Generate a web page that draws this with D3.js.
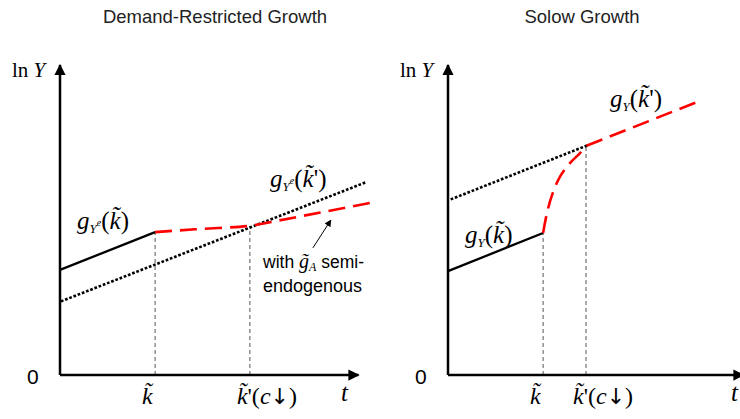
<!DOCTYPE html>
<html><head><meta charset="utf-8">
<script src="https://cdn.jsdelivr.net/npm/d3@7"></script>
<style>body{margin:0;background:#fff}svg{display:block}</style>
</head><body>
<svg id="c" width="740" height="419"></svg>
<script>
// ---- data (abstract units: t on x, ln Y on y) ----
const titles = ["Demand-Restricted Growth", "Solow Growth"];
// Left panel
const leftSolid = [[0, 3.39], [3.17, 4.61]];
const leftRedCurve = [[3.17, 4.61], [4.5, 4.7], [6.3, 4.81], [7.0, 4.93]];
const leftRedEnd = [10.33, 5.55];
const leftDotted = [[0.07, 2.39], [10.23, 6.23]];
const leftTicks = [3.17, 6.33];
// Right panel
const rightSolid = [[0, 3.35], [3.17, 4.58]];
const rightRedCurve = [[3.17, 4.58], [3.3, 5.23], [3.47, 5.81], [3.73, 6.39], [4.07, 6.84], [4.4, 7.16], [4.6, 7.39]];
const rightRedEnd = [8.47, 8.87];
const rightDotted = [[0.13, 5.68], [4.6, 7.39]];
const rightTicks = [3.17, 4.6];

const svg = d3.select("#c");
const defs = svg.append("defs");
defs.append("marker").attr("id","ax").attr("viewBox","0 0 10 10").attr("refX",9).attr("refY",5)
  .attr("markerWidth",4.5).attr("markerHeight",4.5).attr("markerUnits","strokeWidth").attr("orient","auto")
  .append("path").attr("d","M0,0L10,5L0,10z").attr("fill","#000");
defs.append("marker").attr("id","sm").attr("viewBox","0 0 10 10").attr("refX",9).attr("refY",5)
  .attr("markerWidth",7).attr("markerHeight",7).attr("markerUnits","strokeWidth").attr("orient","auto")
  .append("path").attr("d","M0,0L10,5L0,10z").attr("fill","#000");

const serif = "'Liberation Serif','Times New Roman',serif";
const sans = "'Liberation Sans',Arial,sans-serif";

const y = d3.scaleLinear().domain([0, 10]).range([375, 65]);

function panel(opt) {
  const x = d3.scaleLinear().domain([0, 10]).range([opt.x0, opt.x0 + 300]);
  const g = svg.append("g");
  const line = d3.line().x(d => x(d[0])).y(d => y(d[1]));
  // title
  g.append("text").attr("x", opt.titleX).attr("y", 23).attr("text-anchor","middle")
    .attr("font-family", sans).attr("font-size", 18.5).attr("fill","#222").text(opt.title);
  // vertical dashed guides
  opt.ticks.forEach((t, i) => {
    g.append("line").attr("x1", x(t)).attr("x2", x(t)).attr("y1", y(0)).attr("y2", y(opt.guideTop[i]))
      .attr("stroke","#555").attr("stroke-width",1).attr("stroke-dasharray","4,3");
  });
  // axes
  g.append("line").attr("x1", x(0)).attr("y1", y(0)).attr("x2", x(0)).attr("y2", y(10))
    .attr("stroke","#000").attr("stroke-width",2.5).attr("marker-end","url(#ax)");
  g.append("line").attr("x1", x(0)).attr("y1", y(0)).attr("x2", x(opt.xEnd)).attr("y2", y(0))
    .attr("stroke","#000").attr("stroke-width",2.5).attr("marker-end","url(#ax)");
  // dotted
  g.append("path").attr("d", line(opt.dotted)).attr("fill","none").attr("stroke","#000")
    .attr("stroke-width",2.6).attr("stroke-dasharray","0.1,4.4").attr("stroke-linecap","square");
  // solid
  g.append("path").attr("d", line(opt.solid)).attr("fill","none").attr("stroke","#000").attr("stroke-width",2.3);
  // red dashed: curved part then straight
  const p = d3.path();
  d3.line().x(d => x(d[0])).y(d => y(d[1])).curve(d3.curveCatmullRom.alpha(0.5)).context(p)(opt.redCurve);
  p.lineTo(x(opt.redEnd[0]), y(opt.redEnd[1]));
  g.append("path").attr("d", p.toString())
    .attr("fill","none").attr("stroke","#f00").attr("stroke-width",2.6).attr("stroke-dasharray","17,8");
  // ln Y
  const ly = g.append("text").attr("x", x(0) - 48).attr("y", 77).attr("font-family", serif).attr("font-size", 21);
  ly.append("tspan").text("ln ");
  ly.append("tspan").attr("font-style","italic").text("Y");
  g.append("text").attr("x", x(0) - 33).attr("y", 384).attr("font-family", sans).attr("font-size", 21).text("0");
  g.append("text").attr("x", opt.tX).attr("y", 401).attr("font-family", serif).attr("font-style","italic").attr("font-size", 25).text("t");
  // tick labels
  g.append("text").attr("x", x(opt.ticks[0]) - 13).attr("y", 404)
    .attr("font-family", serif).attr("font-style","italic").attr("font-size", 24).text("k\u0303");
  const k2 = g.append("text").attr("x", x(opt.ticks[1]) - 13).attr("y", 404)
    .attr("font-family", serif).attr("font-size", 24);
  k2.append("tspan").attr("font-style","italic").text("k\u0303");
  k2.append("tspan").text("'(");
  k2.append("tspan").attr("font-style","italic").text("c");
  k2.append("tspan").attr("font-family", "'DejaVu Sans',sans-serif").attr("font-size", 22).text("\u2193");
  k2.append("tspan").text(")");
  return {g, x};
}

function gLabel(g, xx, yy, sup, prime) {
  const t = g.append("text").attr("x", xx).attr("y", yy).attr("font-family", serif).attr("font-size", 25);
  t.append("tspan").attr("font-style","italic").text("g");
  t.append("tspan").attr("font-style","italic").attr("font-size", 13).attr("dy", 4).text("Y");
  if (sup) t.append("tspan").attr("font-style","italic").attr("font-size", 10).attr("dy", -7).text("e");
  t.append("tspan").attr("dy", sup ? 3 : -4).text("(");
  t.append("tspan").attr("font-style","italic").text("k\u0303");
  t.append("tspan").text(prime ? "')" : ")");
}

const L = panel({title: titles[0], titleX: 215, x0: 60, xEnd: 9.95, tX: 341,
  ticks: leftTicks, guideTop: [4.61, 4.81], dotted: leftDotted, solid: leftSolid,
  redCurve: leftRedCurve, redEnd: leftRedEnd});
gLabel(L.g, 77, 229, true, false);
gLabel(L.g, 270, 187, true, true);
// annotation
const ann = L.g.append("text").attr("x", 263).attr("y", 268).attr("font-family", sans).attr("font-size", 17.5);
ann.append("tspan").text("with ");
ann.append("tspan").attr("font-family", serif).attr("font-style","italic").attr("font-size", 20).text("g\u0303");
ann.append("tspan").attr("font-family", serif).attr("font-style","italic").attr("font-size", 12).attr("dy", 3).text("A");
ann.append("tspan").attr("dy", -3).text(" semi-");
L.g.append("text").attr("x", 263).attr("y", 292).attr("font-family", sans).attr("font-size", 18).text("endogenous");
L.g.append("line").attr("x1", L.x(8.43)).attr("y1", y(4.1)).attr("x2", L.x(9.03)).attr("y2", y(5.0))
  .attr("stroke","#000").attr("stroke-width",1).attr("marker-end","url(#sm)");

const R = panel({title: titles[1], titleX: 582, x0: 448, xEnd: 9.85, tX: 731,
  ticks: rightTicks, guideTop: [4.58, 7.39], dotted: rightDotted, solid: rightSolid,
  redCurve: rightRedCurve, redEnd: rightRedEnd});
gLabel(R.g, 465, 243, false, false);
gLabel(R.g, 610, 107, false, true);
</script>
</body></html>
